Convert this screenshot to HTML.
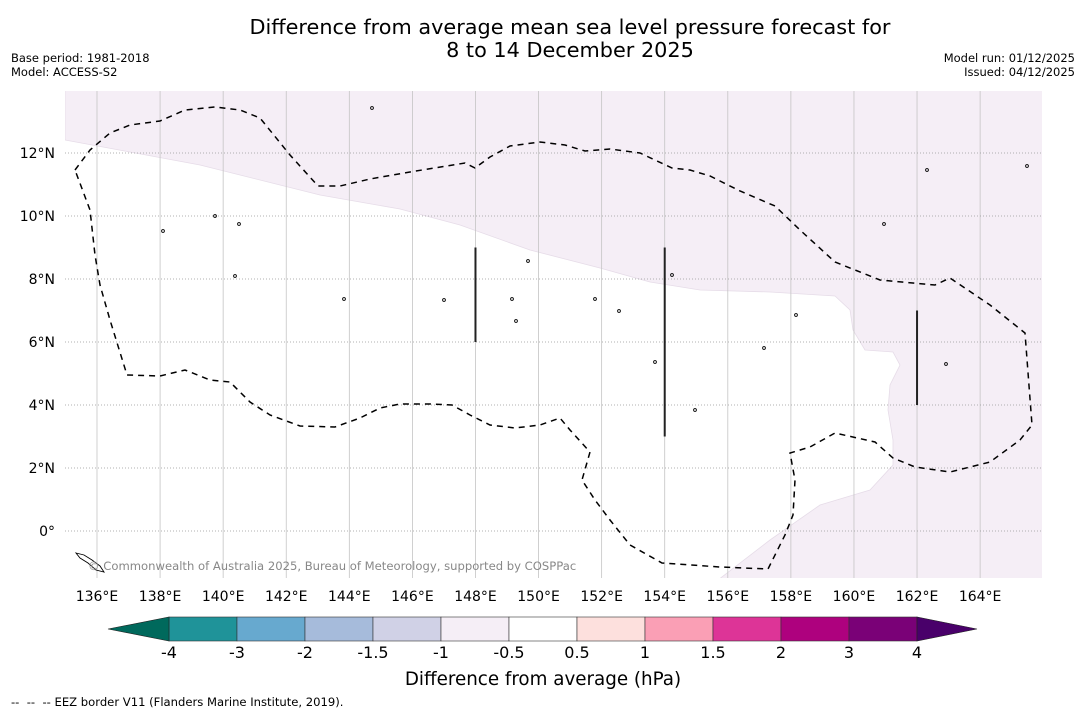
<!DOCTYPE html>
<html><head><meta charset="utf-8"><style>
html,body{margin:0;padding:0;background:#fff}
body{width:1085px;height:713px;overflow:hidden;position:relative;font-family:"DejaVu Sans","Liberation Sans",sans-serif}
svg{position:absolute;left:0;top:0}
</style></head><body>
<svg id="c" width="1085" height="713" font-family="DejaVu Sans, Liberation Sans, sans-serif">
<text x="570" y="34" text-anchor="middle" font-size="20.8">Difference from average mean sea level pressure forecast for</text>
<text x="570" y="57" text-anchor="middle" font-size="20.8">8 to 14 December 2025</text>
<text x="11" y="62" font-size="11.5">Base period: 1981-2018</text>
<text x="11" y="76" font-size="11.5">Model: ACCESS-S2</text>
<text x="1075" y="62" font-size="11.5" text-anchor="end">Model run: 01/12/2025</text>
<text x="1075" y="76" font-size="11.5" text-anchor="end">Issued: 04/12/2025</text>
<defs><clipPath id="mc"><rect x="65" y="91" width="977" height="487"/></clipPath></defs>
<g id="map" clip-path="url(#mc)"></g>
<g id="axes"></g>
<g id="cbar"></g>
<text x="543" y="685" text-anchor="middle" font-size="18.3">Difference from average (hPa)</text>
<text x="11" y="706" font-size="11.6" xml:space="preserve" style="white-space:pre">--  --  -- EEZ border V11 (Flanders Marine Institute, 2019).</text>
</svg>
<script>
const lonTicks=[136,138,140,142,144,146,148,150,152,154,156,158,160,162,164];
const latTicks=[0,2,4,6,8,10,12];
const cbBounds=[-4,-3,-2,-1.5,-1,-0.5,0.5,1,1.5,2,3,4];
const cbLabels=["-4","-3","-2","-1.5","-1","-0.5","0.5","1","1.5","2","3","4"];
const cbColors=["#1f9399","#67a9cf","#a6bbdb","#d0d1e6","#f5eef6","#ffffff","#fde0dd","#fa9fb5","#dd3497","#ae017e","#7a0177"];
const anomLines=[[148,9,6],[154,9,3],[162,7,4]];
// outline geometry (screen px)
const eez=[[75,170],[90,150],[110,133],[130,125],[160,121],[185,110],[215,107],[240,110],[260,118],[290,155],[318,186],[340,186],[370,179],[410,172],[465,163],[475,168],[490,157],[510,146],[540,142],[565,145],[585,151],[610,149],[640,153],[672,168],[690,170],[710,176],[740,191],[775,206],[800,230],[835,262],[880,280],[935,285],[950,278],[990,305],[1025,333],[1032,425],[1020,440],[990,462],[950,472],[915,467],[893,458],[875,442],[835,433],[810,447],[790,453],[795,480],[793,515],[785,535],[768,569],[720,567],[662,563],[630,545],[610,520],[595,500],[582,480],[590,452],[570,430],[560,418],[540,425],[515,428],[490,425],[470,415],[452,405],[430,404],[400,404],[380,408],[360,418],[335,427],[300,426],[270,415],[250,402],[230,382],[210,380],[185,370],[160,376],[127,375],[110,320],[100,285],[95,255],[90,210],[75,170]];
const pink=[[65,140],[130,152],[200,165],[320,195],[400,209],[460,225],[530,250],[600,268],[650,282],[700,290],[770,292],[835,296],[850,310],[853,330],[865,350],[893,352],[900,365],[890,385],[888,410],[893,440],[893,465],[870,490],[820,505],[770,540],[718,580],[1045,580],[1045,88],[65,88]];
const X=lon=>97+(lon-136)*31.54, Y=lat=>531-lat*31.5;
const NS="http://www.w3.org/2000/svg";
function mk(t,a,p){const e=document.createElementNS(NS,t);for(const k in a)e.setAttribute(k,a[k]);p.appendChild(e);return e;}
const map=document.getElementById('map'),ax=document.getElementById('axes'),cb=document.getElementById('cbar');
let e=mk('polygon',{points:pink.map(p=>p.join(',')).join(' '),fill:'#f5eef6',stroke:'#e6dce8','stroke-width':0.8},map);


lonTicks.forEach(l=>{const x=X(l);
 let g=mk('line',{x1:x,x2:x,y1:91,y2:578,stroke:'#c4c4c4','stroke-width':0.8},map);
 
 
 let t=mk('text',{x:x,y:601,'text-anchor':'middle','font-size':14},ax);t.textContent=l+'°E';
 
 
});
latTicks.forEach(l=>{const y=Y(l);
 let g=mk('line',{x1:65,x2:1042,y1:y,y2:y,stroke:'#999','stroke-width':0.8,'stroke-dasharray':'1,2'},map);
 
 
 let t=mk('text',{x:55,y:y+5,'text-anchor':'end','font-size':14},ax);t.textContent=l===0?'0°':l+'°N';
 
 
});
e=mk('polyline',{points:eez.map(p=>p.join(',')).join(' '),fill:'none',stroke:'#000','stroke-width':1.5,'stroke-dasharray':'6,5'},map);


anomLines.forEach(a=>{let l=mk('line',{x1:X(a[0]),x2:X(a[0]),y1:Y(a[1]),y2:Y(a[2]),stroke:'#222','stroke-width':2},map);
 
 });
[[163,231],[239,224],[235,276],[344,299],[444,300],[512,299],[516,321],[528,261],[595,299],[619,311],[672,275],[655,362],[764,348],[796,315],[946,364],[884,224],[927,170],[1027,166],[695,410],[372,108],[215,216]].forEach(p=>{
 let d=mk('circle',{cx:p[0],cy:p[1],r:1.4,fill:'none',stroke:'#000','stroke-width':0.9},map);
 
 });
e=mk('path',{d:'M76,553 L84,555 L92,560 L100,566 L104,572 L96,570 L88,563 L80,558Z',fill:'none',stroke:'#000','stroke-width':0.9},map);


let c=mk('text',{x:88,y:570,'font-size':11.6,fill:'#888'},map);c.textContent='© Commonwealth of Australia 2025, Bureau of Meteorology, supported by COSPPac';


// colorbar
const cx0=169,cw=68,cy=617,ch=24;
cbColors.forEach((col,i)=>{let r=mk('rect',{x:cx0+i*cw,y:cy,width:cw,height:ch,fill:col,stroke:'#333','stroke-width':0.6},cb);
 
 });
e=mk('polygon',{points:`${cx0},${cy} ${cx0},${cy+ch} 108,${cy+ch/2}`,fill:'#00695c',stroke:'#222','stroke-width':0.6},cb);


const xe=cx0+cbColors.length*cw;
e=mk('polygon',{points:`${xe},${cy} ${xe},${cy+ch} 977,${cy+ch/2}`,fill:'#49006a',stroke:'#222','stroke-width':0.6},cb);


cbBounds.forEach((b,i)=>{let t=mk('text',{x:cx0+i*cw,y:658,'text-anchor':'middle','font-size':16},cb);t.textContent=cbLabels[i];
 
 });
</script>
</body></html>
